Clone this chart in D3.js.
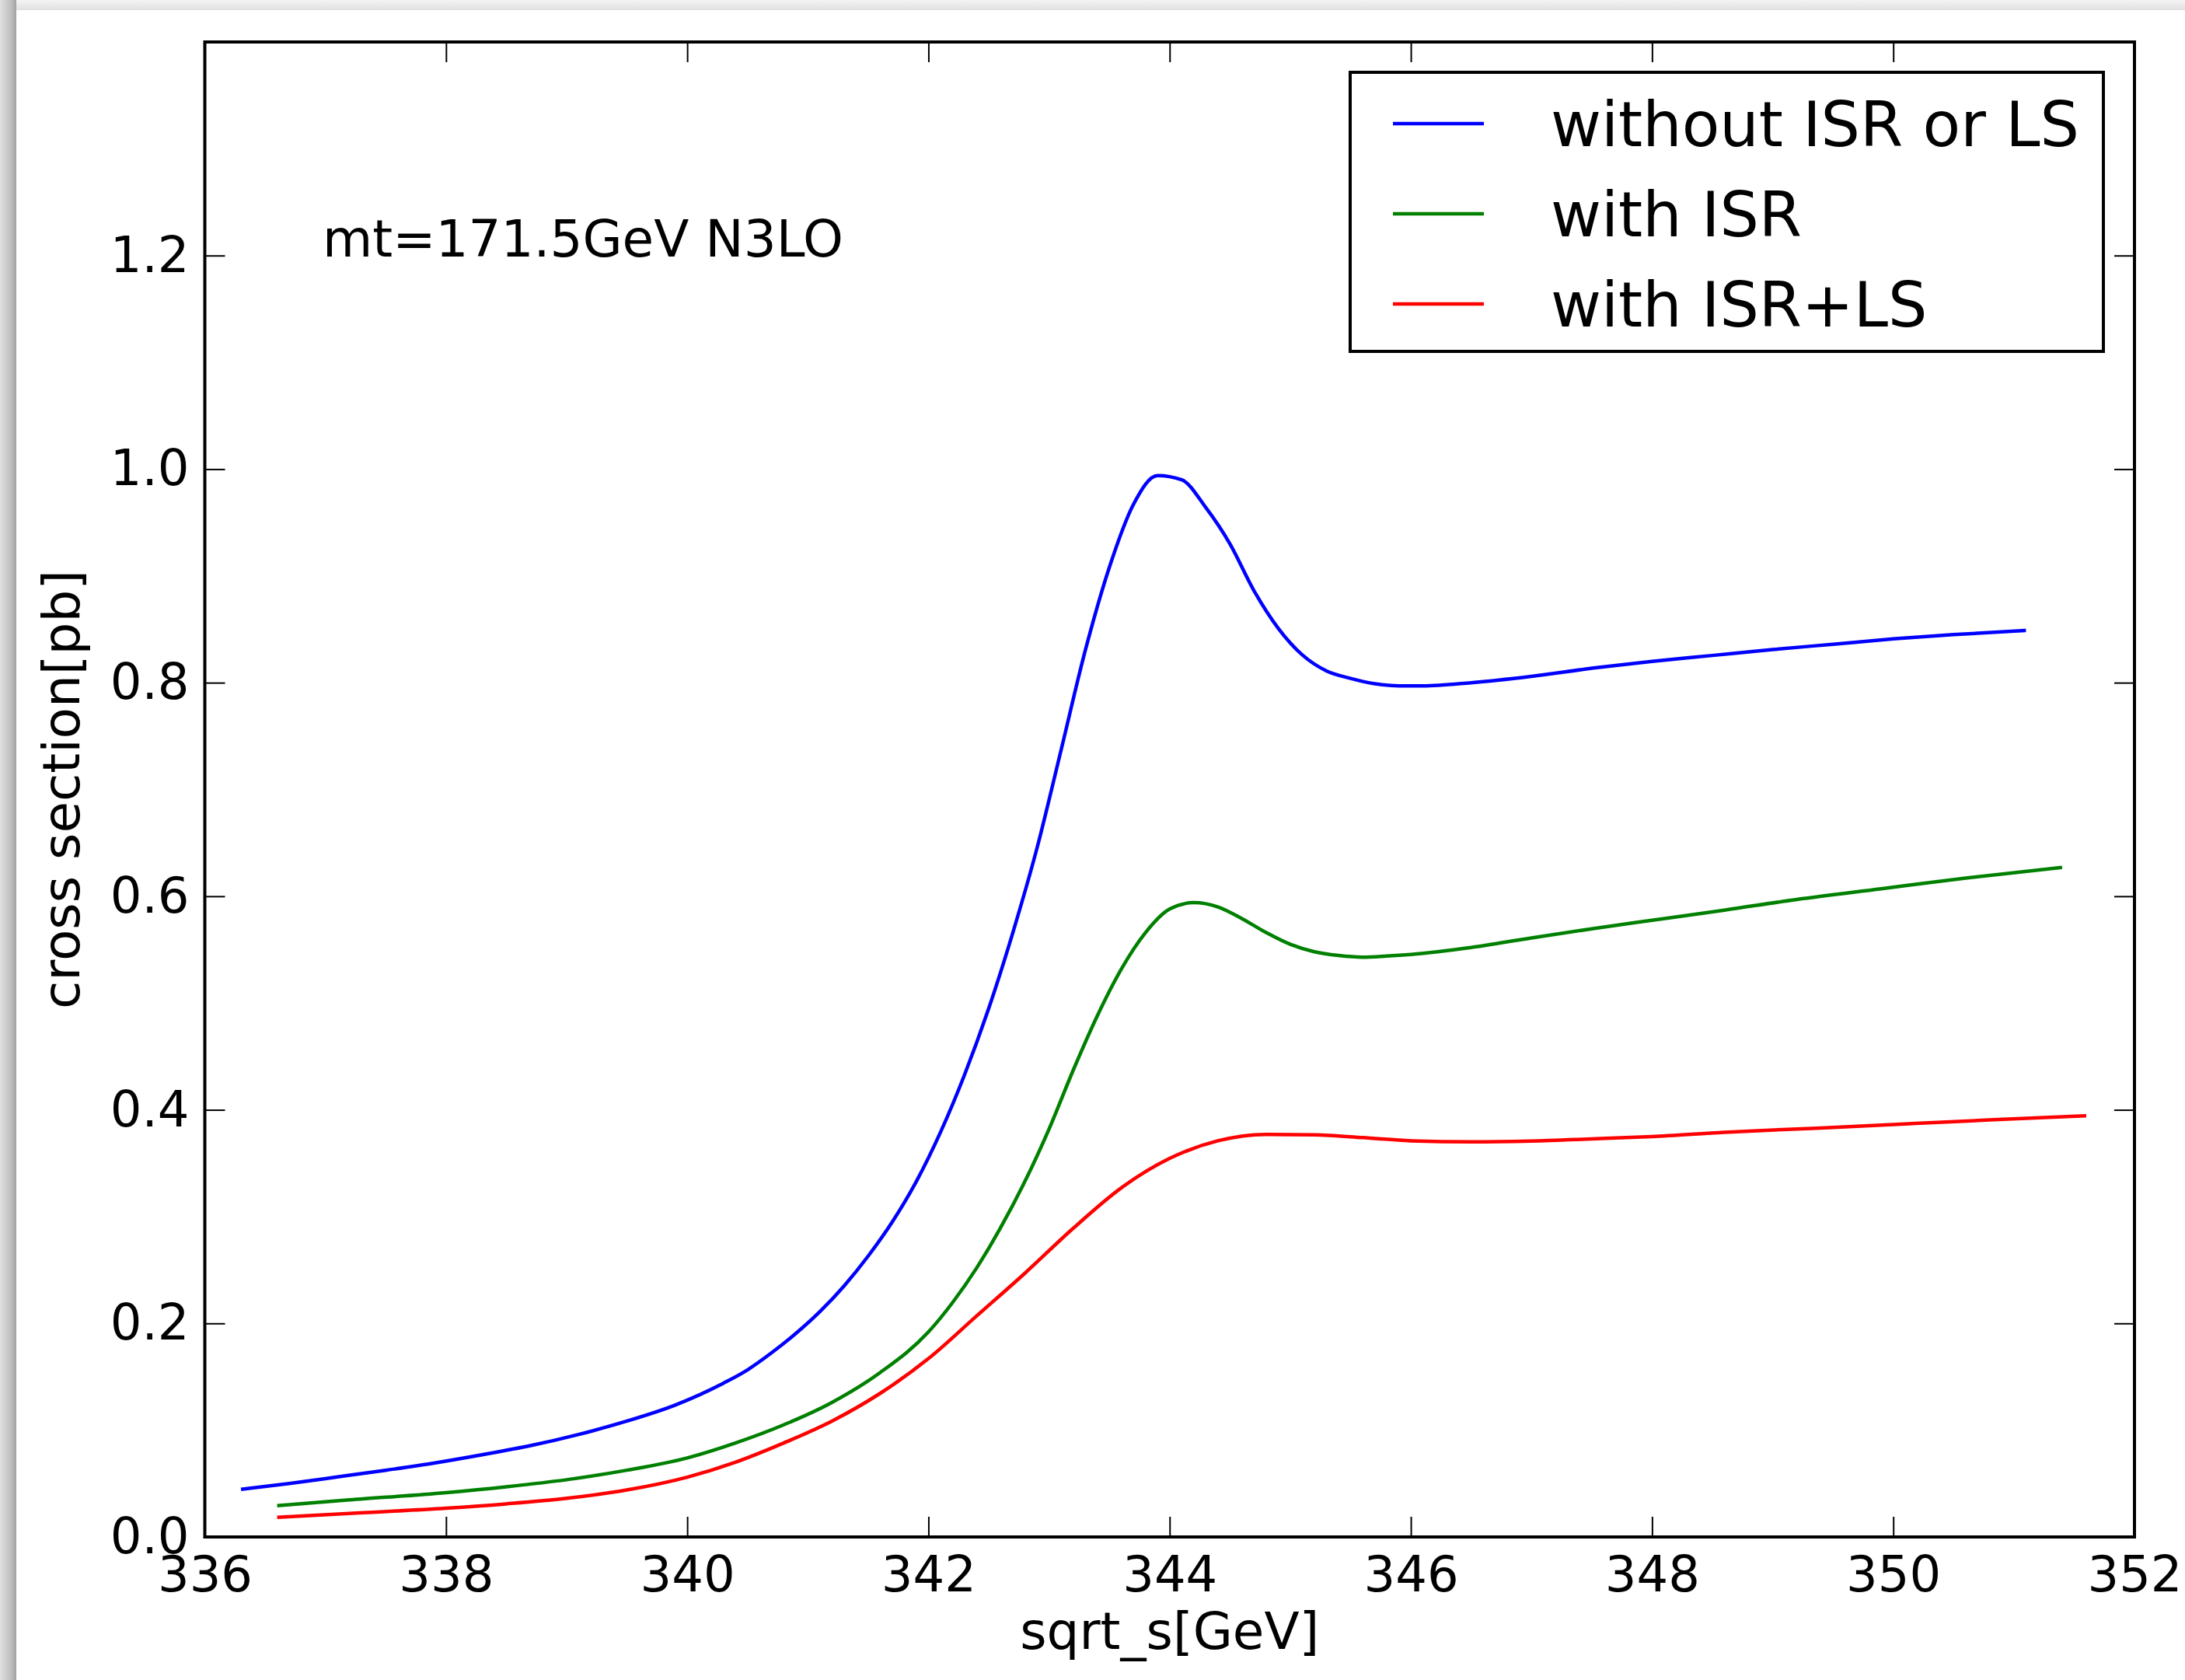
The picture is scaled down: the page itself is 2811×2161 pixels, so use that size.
<!DOCTYPE html>
<html>
<head>
<meta charset="utf-8">
<script src="https://cdn.jsdelivr.net/npm/d3@7"></script>
<style>
  html, body { margin: 0; padding: 0; background: #ffffff; }
  svg { display: block; }
  text { font-family: "DejaVu Sans", sans-serif; fill: #000; }
</style>
</head>
<body>
<script>
// ---------------- data ----------------
const xTickValues = [336, 338, 340, 342, 344, 346, 348, 350, 352];
const yTickValues = [0.0, 0.2, 0.4, 0.6, 0.8, 1.0, 1.2];

const seriesNames = ["without ISR or LS", "with ISR", "with ISR+LS"];
const seriesColors = ["#0000ff", "#008000", "#ff0000"];

const blueX = [336.3, 336.7, 337.1, 337.5, 337.9, 338.3, 338.7, 339.1, 339.5, 339.9,
  340.3, 340.5, 340.7, 340.9, 341.1, 341.3, 341.5, 341.7, 341.9, 342.1, 342.3, 342.5,
  342.7, 342.9, 343.1, 343.3, 343.5, 343.7, 343.9, 344.1, 344.3, 344.5, 344.7, 344.9,
  345.1, 345.3, 345.5, 345.7, 345.9, 346.1, 346.5, 347.0, 347.5, 348.0, 348.5, 349.0,
  349.5, 350.0, 350.5, 351.1];
const blueY = [0.0446, 0.0500, 0.0562, 0.0625, 0.0692, 0.0770, 0.0855, 0.0960, 0.1085, 0.1235,
  0.1440, 0.1565, 0.1725, 0.1905, 0.2110, 0.2350, 0.2630, 0.2950, 0.3330, 0.3790, 0.4330, 0.4950,
  0.5660, 0.6450, 0.7370, 0.8300, 0.9080, 0.9670, 0.9940, 0.9900, 0.9640, 0.9300, 0.8860, 0.8510,
  0.8260, 0.8110, 0.8040, 0.7990, 0.7970, 0.7970, 0.8000, 0.8060, 0.8135, 0.8200, 0.8255, 0.8310,
  0.8360, 0.8410, 0.8450, 0.8490];

const greenX = [336.6, 337.2, 338.0, 338.5, 339.0, 339.5, 340.0, 340.4, 340.8, 341.2,
  341.6, 342.0, 342.2, 342.4, 342.6, 342.8, 343.0, 343.2, 343.4, 343.6, 343.8, 344.0,
  344.2, 344.4, 344.6, 344.8, 345.0, 345.2, 345.4, 345.6, 345.8, 346.0, 346.5, 347.0,
  347.5, 348.0, 348.6, 349.2, 349.9, 350.6, 351.4];
const greenY = [0.0293, 0.0347, 0.0415, 0.0470, 0.0536, 0.0625, 0.0740, 0.0880, 0.1050, 0.1260,
  0.1540, 0.1920, 0.2195, 0.2520, 0.2900, 0.3330, 0.3820, 0.4370, 0.4880, 0.5320, 0.5660, 0.5880,
  0.5940, 0.5900, 0.5790, 0.5660, 0.5550, 0.5480, 0.5445, 0.5430, 0.5440, 0.5455, 0.5520, 0.5610,
  0.5695, 0.5775, 0.5870, 0.5970, 0.6070, 0.6170, 0.6270];

const redX = [336.6, 337.2, 338.0, 338.5, 339.0, 339.5, 340.0, 340.4, 340.8, 341.2,
  341.6, 342.0, 342.4, 342.8, 343.2, 343.6, 344.0, 344.4, 344.8, 345.2, 345.6, 346.0,
  346.5, 347.0, 347.5, 348.0, 348.6, 349.4, 350.1, 350.8, 351.6];
const redY = [0.0184, 0.0221, 0.0269, 0.0310, 0.0362, 0.0440, 0.0560, 0.0700, 0.0880, 0.1085,
  0.1345, 0.1670, 0.2070, 0.2470, 0.2890, 0.3270, 0.3545, 0.3710, 0.3770, 0.3765, 0.3740, 0.3710,
  0.3700, 0.3708, 0.3728, 0.3750, 0.3790, 0.3830, 0.3868, 0.3905, 0.3944];

const annotationText = "mt=171.5GeV N3LO";
const xLabelText = "sqrt_s[GeV]";
const yLabelText = "cross section[pb]";

// ---------------- layout ----------------
const W = 2811, H = 2161;
const plot = { left: 263.5, right: 2746, top: 54, bottom: 1977 };

const svg = d3.select("body").append("svg").attr("width", W).attr("height", H);
const defs = svg.append("defs");

// window drop shadow at left and top edges
const gl = defs.append("linearGradient").attr("id", "shadowL").attr("x1", 0).attr("x2", 1).attr("y1", 0).attr("y2", 0);
gl.append("stop").attr("offset", "0%").attr("stop-color", "#e0e0e0");
gl.append("stop").attr("offset", "70%").attr("stop-color", "#bdbdbd");
gl.append("stop").attr("offset", "100%").attr("stop-color", "#a2a2a2");
const gt = defs.append("linearGradient").attr("id", "shadowT").attr("x1", 0).attr("x2", 0).attr("y1", 0).attr("y2", 1);
gt.append("stop").attr("offset", "0%").attr("stop-color", "#f4f4f4");
gt.append("stop").attr("offset", "100%").attr("stop-color", "#e0e0e0");

svg.append("rect").attr("x", 0).attr("y", 0).attr("width", W).attr("height", H).attr("fill", "#ffffff");
svg.append("rect").attr("x", 0).attr("y", 0).attr("width", W).attr("height", 13).attr("fill", "url(#shadowT)");
svg.append("rect").attr("x", 0).attr("y", 0).attr("width", 21).attr("height", H).attr("fill", "url(#shadowL)");

// scales
const x = d3.scaleLinear().domain([336, 352]).range([plot.left, plot.right]);
const y = d3.scaleLinear().domain([0, 1.4]).range([plot.bottom, plot.top]);

const tickLen = 26;
const tickFont = 64;

function styleAxis(g) {
  g.select(".domain").remove();
  g.selectAll(".tick line").attr("stroke", "#000").attr("stroke-width", 2);
  g.selectAll(".tick text").attr("font-family", "DejaVu Sans").attr("font-size", tickFont).attr("fill", "#000");
}

// bottom axis (labels)
svg.append("g").attr("transform", `translate(0,${plot.bottom})`)
  .call(d3.axisBottom(x).tickValues(xTickValues).tickFormat(d3.format("d"))
    .tickSizeInner(-tickLen).tickSizeOuter(0).tickPadding(25))
  .call(styleAxis);
// top axis (ticks only)
svg.append("g").attr("transform", `translate(0,${plot.top})`)
  .call(d3.axisTop(x).tickValues(xTickValues).tickFormat("")
    .tickSizeInner(-tickLen).tickSizeOuter(0))
  .call(styleAxis);
// left axis (labels)
svg.append("g").attr("transform", `translate(${plot.left},0)`)
  .call(d3.axisLeft(y).tickValues(yTickValues).tickFormat(d3.format(".1f"))
    .tickSizeInner(-tickLen).tickSizeOuter(0).tickPadding(20))
  .call(styleAxis);
// right axis (ticks only)
svg.append("g").attr("transform", `translate(${plot.right},0)`)
  .call(d3.axisRight(y).tickValues(yTickValues).tickFormat("")
    .tickSizeInner(-tickLen).tickSizeOuter(0))
  .call(styleAxis);

// series
const series = [
  { name: seriesNames[0], color: seriesColors[0], xs: blueX, ys: blueY },
  { name: seriesNames[1], color: seriesColors[1], xs: greenX, ys: greenY },
  { name: seriesNames[2], color: seriesColors[2], xs: redX, ys: redY }
];

const line = d3.line().x(d => x(d[0])).y(d => y(d[1])).curve(d3.curveMonotoneX);

svg.append("g").selectAll("path").data(series).join("path")
  .attr("d", s => line(s.xs.map((v, i) => [v, s.ys[i]])))
  .attr("fill", "none")
  .attr("stroke", s => s.color)
  .attr("stroke-width", 4.5)
  .attr("stroke-linejoin", "round")
  .attr("stroke-linecap", "butt");

// frame
svg.append("rect")
  .attr("x", plot.left).attr("y", plot.top)
  .attr("width", plot.right - plot.left).attr("height", plot.bottom - plot.top)
  .attr("fill", "none").attr("stroke", "#000").attr("stroke-width", 4);

// annotation
svg.append("text").attr("x", 415).attr("y", 330)
  .attr("font-size", 66).text(annotationText);

// axis labels
svg.append("text").attr("x", (plot.left + plot.right) / 2).attr("y", 2121)
  .attr("text-anchor", "middle").attr("font-size", 66).text(xLabelText);
svg.append("text")
  .attr("transform", `translate(102,${(plot.top + plot.bottom) / 2}) rotate(-90)`)
  .attr("text-anchor", "middle").attr("font-size", 66).text(yLabelText);

// legend
const legend = { x0: 1737, y0: 93, x1: 2706, y1: 452 };
svg.append("rect")
  .attr("x", legend.x0).attr("y", legend.y0)
  .attr("width", legend.x1 - legend.x0).attr("height", legend.y1 - legend.y0)
  .attr("fill", "#ffffff").attr("stroke", "#000").attr("stroke-width", 4);

const legendRowY = d3.scalePoint().domain(seriesNames).range([159, 391]);
const lg = svg.append("g").selectAll("g").data(series).join("g")
  .attr("transform", s => `translate(0,${legendRowY(s.name)})`);
lg.append("line").attr("x1", 1792).attr("x2", 1909).attr("y1", 0).attr("y2", 0)
  .attr("stroke", s => s.color).attr("stroke-width", 4.5);
lg.append("text").attr("x", 1995).attr("y", 29)
  .attr("font-size", 79.5).text(s => s.name);
</script>
</body>
</html>
